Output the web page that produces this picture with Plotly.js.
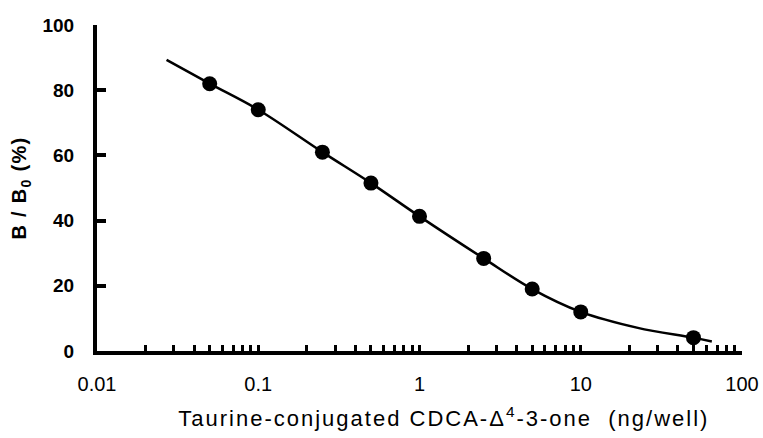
<!DOCTYPE html>
<html>
<head>
<meta charset="utf-8">
<script src="https://cdn.plot.ly/plotly-3.0.1.min.js"></script>
<style>
html,body{margin:0;padding:0;background:#fff;}
#chart{width:763px;height:438px;}
.xtitle{letter-spacing:2px;}
.ytitle{letter-spacing:1.3px;}
</style>
</head>
<body>
<div id="chart"></div>
<script>
// Measured data points (dose, B/B0 %)
const doses = [0.05, 0.1, 0.25, 0.5, 1, 2.5, 5, 10, 50];
const bb0 = [82, 74, 61, 51.5, 41.3, 28.4, 19, 12, 4.1];
// Fitted curve
const curveX = [0.027, 0.05, 0.1, 0.25, 0.5, 1, 2.5, 5, 10, 22.6, 50, 65];
const curveY = [89.3, 82, 74, 61, 51.5, 41.3, 28.4, 19, 12, 7.1, 4.1, 2.9];
// Axis ticks
const xTickVals = [0.01, 0.1, 1, 10, 100];
const xTickText = ['0.01', '0.1', '1', '10', '100'];
const yTickVals = [0, 20, 40, 60, 80, 100];

const traces = [
  {x: curveX, y: curveY, mode: 'lines', type: 'scatter',
   line: {color: '#000', width: 2.5, shape: 'spline'}, hoverinfo: 'skip'},
  {x: doses, y: bb0, mode: 'markers', type: 'scatter',
   marker: {color: '#000', size: 15}}
];

const layout = {
  width: 763, height: 438,
  margin: {l: 97, r: 21, t: 25, b: 87},
  paper_bgcolor: '#fff', plot_bgcolor: '#fff',
  showlegend: false,
  font: {family: 'Liberation Sans, Arial, sans-serif', color: '#000'},
  xaxis: {
    type: 'log', range: [-2, 2],
    tickvals: xTickVals, ticktext: xTickText,
    ticks: 'inside', ticklen: 6, tickwidth: 3, tickcolor: '#000',
    minor: {dtick: 'D1', ticks: 'inside', ticklen: 6, tickwidth: 3, tickcolor: '#000', showgrid: false},
    showline: true, linewidth: 4, linecolor: '#000',
    showgrid: false, zeroline: false,
    tickfont: {size: 20, color: '#000'},
    ticklabelstandoff: 12,
    title: {text: '&nbsp;&nbsp;&nbsp;&nbsp;&nbsp;&nbsp;Taurine-conjugated CDCA-Δ<sup>4</sup>-3-one  (ng/well)', font: {size: 22, color: '#000'}, standoff: 18}
  },
  yaxis: {
    range: [0, 100],
    tickvals: yTickVals,
    ticks: 'inside', ticklen: 9, tickwidth: 4, tickcolor: '#000',
    showline: true, linewidth: 4, linecolor: '#000',
    showgrid: false, zeroline: false,
    tickfont: {size: 19, color: '#000', weight: 'bold'},
    ticklabelstandoff: 15,
    title: {text: '<b>B / B<sub>0</sub> (%)</b>', font: {size: 20, color: '#000'}, standoff: 11}
  }
};

Plotly.newPlot('chart', traces, layout, {displayModeBar: false, staticPlot: true});
</script>
</body>
</html>
